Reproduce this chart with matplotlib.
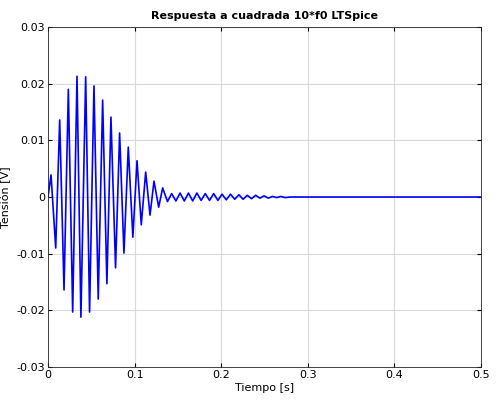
import matplotlib
matplotlib.use("Agg")
import matplotlib.pyplot as plt

# extrema of the response (time [s], voltage [V])
t_pts = [0.0, 0.0035, 0.0089, 0.0135, 0.0185, 0.0235, 0.0285, 0.0335, 0.038,
         0.0435, 0.048, 0.0531, 0.058, 0.0631, 0.068, 0.0727, 0.078, 0.0827,
         0.0877, 0.0927, 0.098, 0.1028, 0.1077, 0.1128, 0.1178, 0.1224,
         0.1278, 0.1324, 0.138, 0.1428, 0.1477, 0.1525, 0.1574, 0.1622,
         0.1671, 0.1719, 0.1768, 0.1816, 0.1865, 0.1913, 0.1962, 0.201,
         0.2059, 0.2107, 0.2156, 0.2204, 0.2253, 0.2301, 0.235, 0.2398,
         0.2447, 0.2495, 0.2544, 0.2592, 0.2641, 0.2689, 0.2738, 0.28, 0.5]
v_pts = [0.0, 0.0039, -0.0090, 0.0136, -0.0164, 0.0190, -0.0203, 0.0213,
         -0.0212, 0.0212, -0.0203, 0.0196, -0.0180, 0.0171, -0.0153, 0.0141,
         -0.0125, 0.0113, -0.0099, 0.0088, -0.0071, 0.0064, -0.0049, 0.0044,
         -0.0032, 0.0028, -0.0018, 0.0016, -0.0008, 0.0006, -0.0007, 0.0007,
         -0.0007, 0.0007, -0.0007, 0.0007, -0.0006, 0.0006, -0.0006, 0.0006,
         -0.0006, 0.0005, -0.0005, 0.0005, -0.0004, 0.0004, -0.0004, 0.0003,
         -0.0003, 0.0003, -0.0002, 0.0002, -0.0002, 0.0001, -0.0001, 0.0001,
         -0.0001, 0.0, 0.0]

fig = plt.figure(figsize=(5.03, 4.05), dpi=100)
ax = fig.add_axes([48 / 503, 1 - 367 / 405, 433 / 503, 340 / 405])
ax.plot(t_pts, v_pts, color="#0000ff", linewidth=1.2)

ax.set_xlim(0, 0.5)
ax.set_ylim(-0.03, 0.03)
ax.set_xticks([0, 0.1, 0.2, 0.3, 0.4, 0.5])
ax.set_xticklabels(["0", "0.1", "0.2", "0.3", "0.4", "0.5"])
ax.set_yticks([-0.03, -0.02, -0.01, 0, 0.01, 0.02, 0.03])
ax.set_yticklabels(["-0.03", "-0.02", "-0.01", "0", "0.01", "0.02", "0.03"])
ax.grid(True, color="#d9d9d9", linewidth=0.8)
ax.tick_params(direction="in", labelsize=8, length=3, pad=2, top=True, right=True)
for s in ax.spines.values():
    s.set_color("#262626")
    s.set_linewidth(0.6)
ax.set_xlabel("Tiempo [s]", fontsize=8, labelpad=2)
ax.set_ylabel("Tensión [V]", fontsize=8)
ax.yaxis.set_label_coords(-0.085, 0.5)
ax.set_title("Respuesta a cuadrada 10*f0 LTSpice", fontsize=8, fontweight="bold", pad=6)

fig.savefig("out.png", dpi=100)
